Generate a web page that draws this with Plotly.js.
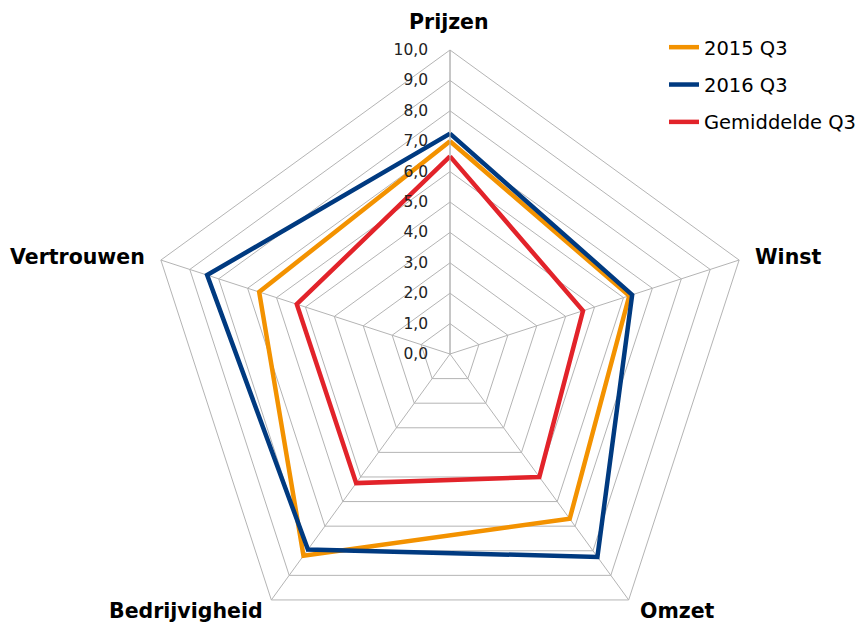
<!DOCTYPE html>
<html><head><meta charset="utf-8">
<script src="https://cdn.plot.ly/plotly-3.0.1.min.js"></script>
<style>html,body{margin:0;padding:0;overflow:hidden;background:#fff}#chart{width:864px;height:680px}</style>
</head><body><div id="chart"></div>
<script>
const categories = ['Prijzen', 'Winst', 'Omzet', 'Bedrijvigheid', 'Vertrouwen'];
const seriesNames = ['2015 Q3', '2016 Q3', 'Gemiddelde Q3'];
const values2015 = [7.0, 6.2, 6.7, 8.2, 6.6];
const values2016 = [7.25, 6.3, 8.25, 7.95, 8.4];
const valuesGem = [6.5, 4.6, 5.0, 5.25, 5.3];
const colors = ['#F39200', '#003A80', '#E2232A'];
const radialTicks = [0,1,2,3,4,5,6,7,8,9,10];

const W = 864, H = 680;
const cx = 450, cy = 354, R = 304;
// category label placement (pixels from top-left) and anchors
const labelX = [449, 753, 638, 265, 147];
const labelY = [22, 257, 611, 611, 257];
const labelAnchor = ['center', 'left', 'left', 'right', 'right'];

function close(a){ return a.concat([a[0]]); }
const allVals = [values2015, values2016, valuesGem];
const traces = allVals.map((v, i) => ({
  type: 'scatterpolar',
  mode: 'lines',
  r: close(v),
  theta: close(categories),
  name: seriesNames[i],
  legendgroup: 'g' + i,
  line: {color: colors[i], width: 4.5, shape: 'linear'},
  hoverinfo: 'skip'
}));

const annotations = categories.map((c, i) => ({
  text: c, showarrow: false,
  xref: 'paper', yref: 'paper',
  x: labelX[i] / W, y: 1 - labelY[i] / H,
  xanchor: labelAnchor[i], yanchor: 'middle',
  font: {size: 20.5, color: '#000', family: 'DejaVu Sans, Verdana, sans-serif', weight: 'bold'}
}));

const layout = {
  width: W, height: H,
  margin: {l: 0, r: 0, t: 0, b: 0, pad: 0},
  paper_bgcolor: '#ffffff',
  separators: ', ',
  font: {family: 'DejaVu Sans, Verdana, sans-serif', color: '#000'},
  showlegend: true,
  legend: {
    x: 664 / W, y: 1 - 28 / H, xanchor: 'left', yanchor: 'top',
    font: {size: 19.5, color: '#000', family: 'DejaVu Sans, Verdana, sans-serif'},
    tracegroupgap: 9, itemwidth: 30, bgcolor: 'rgba(0,0,0,0)'
  },
  annotations: annotations,
  polar: {
    domain: {x: [(cx - R) / W, (cx + R) / W], y: [(H - cy - R) / H, (H - cy + R) / H]},
    gridshape: 'linear',
    bgcolor: '#ffffff',
    angularaxis: {
      rotation: 90, direction: 'clockwise',
      categoryorder: 'array', categoryarray: categories,
      showline: true, linecolor: '#b4b4b4', linewidth: 1,
      showgrid: true, gridcolor: '#b4b4b4', gridwidth: 1,
      ticks: '', showticklabels: false
    },
    radialaxis: {
      range: [0, 10], tickvals: radialTicks, tickformat: '.1f',
      angle: 90, side: 'counterclockwise', tickangle: 90,
      showline: true, linecolor: '#b4b4b4', linewidth: 1,
      showgrid: true, gridcolor: '#b4b4b4', gridwidth: 1,
      ticks: 'outside', ticklen: 16, tickcolor: 'rgba(0,0,0,0)',
      tickfont: {size: 15.5, color: '#222', family: 'DejaVu Sans, Verdana, sans-serif'}
    }
  }
};
Plotly.newPlot('chart', traces, layout, {displayModeBar: false, staticPlot: true});
</script></body></html>
